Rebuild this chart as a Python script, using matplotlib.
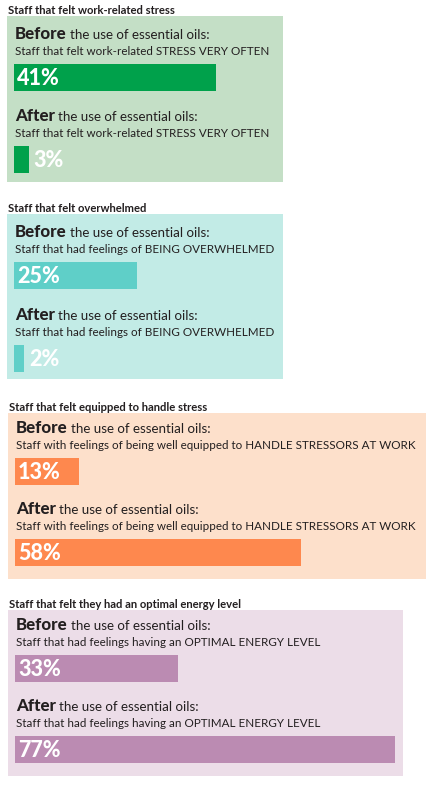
import matplotlib
matplotlib.use('Agg')
import matplotlib.pyplot as plt
import matplotlib.transforms as mtransforms

plt.rcParams['font.family'] = ['Lato', 'DejaVu Sans']

# 数据
titles = ['Staff that felt work-related stress',
          'Staff that felt overwhelmed',
          'Staff that felt equipped to handle stress',
          'Staff that felt they had an optimal energy level']
subtitles = ['Staff that felt work-related STRESS VERY OFTEN',
             'Staff that had feelings of BEING OVERWHELMED',
             'Staff with feelings of being well equipped to HANDLE STRESSORS AT WORK',
             'Staff that had feelings having an OPTIMAL ENERGY LEVEL']
before_vals = [41, 25, 13, 33]
after_vals = [3, 2, 58, 77]
box_colors = ['#c4dfc6', '#c2ebe6', '#fde0cb', '#ecdde8']
bar_colors = ['#00a14b', '#5fcfc8', '#fe884e', '#bb8bb2']

W, H = 440, 788
PX = 4.93   # 每个百分点的像素
# 每个面板的框（像素）：左, 上, 右, 下
boxes = [(7, 16, 283, 182), (7, 214, 283, 379), (8, 413, 426, 579), (8, 610, 403, 776)]
bar_tops = [(48, 130), (48, 131), (45, 126), (45, 126)]
bar_h = 27
bar_left = 7
dark = '#231f20'

fig = plt.figure(figsize=(W / 100, H / 100), dpi=100)
renderer = fig.canvas.get_renderer()


def px2x(p):
    return (p - bar_left) / PX


for i in range(4):
    x0, y0, x1, y1 = boxes[i]
    ax = fig.add_axes([x0 / W, 1 - y1 / H, (x1 - x0) / W, (y1 - y0) / H])
    ax.set_facecolor(box_colors[i])
    ax.set_xlim(px2x(0), px2x(x1 - x0))
    ax.set_ylim(y1 - y0, 0)
    ax.set_xticks([])
    ax.set_yticks([])
    for s in ax.spines.values():
        s.set_visible(False)

    tops = bar_tops[i]
    vals = [before_vals[i], after_vals[i]]
    ax.barh([t + bar_h / 2 for t in tops], vals, height=bar_h, left=0,
            color=bar_colors[i])

    # 标题
    ax.text(px2x(1), -2, titles[i], fontsize=8.1, fontweight='bold',
            color=dark, va='baseline', ha='left', clip_on=False)

    for j, word in enumerate(['Before', 'After']):
        t = tops[j]
        head = ax.text(px2x(8), t - 25, word, fontsize=12.2, fontweight='black',
                       color=dark, va='baseline', ha='left')
        w = head.get_window_extent(renderer).width
        off = mtransforms.ScaledTranslation((w + 3) / 100, 0, fig.dpi_scale_trans)
        ax.text(px2x(8), t - 25, 'the use of essential oils:', fontsize=9.6,
                color=dark, va='baseline', ha='left',
                transform=ax.transData + off)
        ax.text(px2x(8), t - 9, subtitles[i], fontsize=8.4,
                color=dark, va='baseline', ha='left')

        # 百分比标签
        v = vals[j]
        if v < 5:
            lx = v + 5 / PX
        else:
            lx = px2x(bar_left + 3)
        ax.text(lx, t + bar_h - 6, '%d%%' % v, fontsize=15.5, fontweight='black',
                color='white', va='baseline', ha='left')

fig.savefig('out.png', dpi=100, facecolor='white')
